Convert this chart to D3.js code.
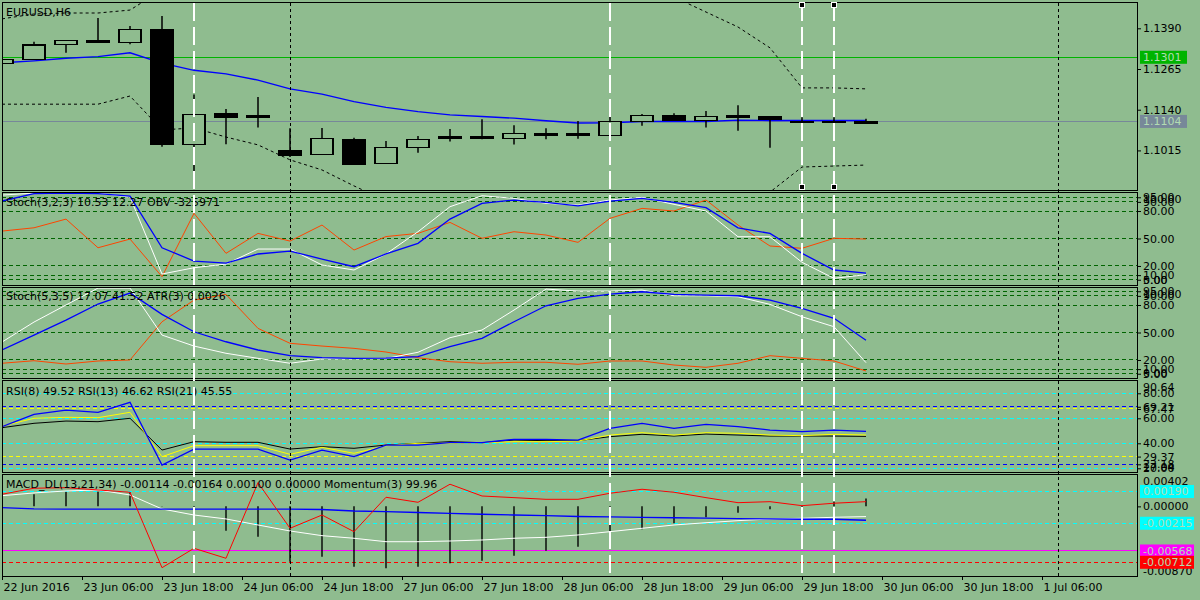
<!DOCTYPE html>
<html>
<head>
<meta charset="utf-8">
<script src="https://cdn.jsdelivr.net/npm/d3@7"></script>
<style>
body { margin: 0; background: #8fbc8f; }
svg { display: block; font-family: "DejaVu Sans", sans-serif; font-size: 11px; }
</style>
</head>
<body>
<svg width="1200" height="600"></svg>
<script>
// ---- data (one value per H6 bar) ----
var opens  = [1.1282,1.1295,1.1341,1.1353,1.1347,1.1385,1.1034,1.1129,1.1121,1.1013,1.1003,1.1049,1.0975,1.1025,1.1057,1.1057,1.1052,1.1067,1.1068,1.1061,1.1105,1.1123,1.1108,1.1121,1.1118,1.1105,1.1105,1.1104];
var highs  = [1.1295,1.1349,1.1353,1.1422,1.1397,1.1428,1.1187,1.1142,1.1179,1.1083,1.1084,1.1054,1.1044,1.1059,1.1081,1.1111,1.1092,1.1083,1.1105,1.1129,1.1127,1.1129,1.1136,1.1154,1.1120,1.1117,1.1117,1.1112];
var lows   = [1.1282,1.1295,1.1315,1.1346,1.1341,1.1026,1.0900,1.1034,1.1085,1.0995,1.1001,1.0972,1.0975,1.1008,1.1042,1.1049,1.1033,1.1049,1.1051,1.1052,1.1091,1.1106,1.1085,1.1075,1.1023,1.1095,1.1069,1.1101];
var closes = [1.1295,1.1339,1.1353,1.1346,1.1387,1.1033,1.1126,1.1117,1.1117,1.0999,1.1052,1.0972,1.1024,1.1049,1.1051,1.1051,1.1068,1.1064,1.1060,1.1103,1.1123,1.1106,1.1120,1.1115,1.1109,1.1103,1.1103,1.1104];

var maLine    = [1.1284,1.1290,1.1298,1.1303,1.1315,1.1283,1.1261,1.1250,1.1231,1.1204,1.1188,1.1165,1.1147,1.1134,1.1124,1.1119,1.1114,1.1106,1.1099,1.1100,1.1104,1.1104,1.1104,1.1108,1.1107,1.1107,1.1107,1.1107];
var bandUpper = [1.1419,1.1434,1.1437,1.1437,1.1446,1.1508,1.1580,1.1610,1.1630,1.1640,1.1650,1.1650,1.1650,1.1645,1.1640,1.1630,1.1620,1.1610,1.1600,1.1590,1.1539,1.1486,1.1440,1.1394,1.1330,1.1207,1.1207,1.1204];
var bandLower = [1.1157,1.1157,1.1157,1.1157,1.1182,1.1078,1.1084,1.1056,1.1032,1.0986,1.0955,1.0906,1.0860,1.0840,1.0830,1.0820,1.0815,1.0810,1.0810,1.0815,1.0820,1.0830,1.0845,1.0860,1.0887,1.0964,1.0967,1.0970];
var linePrice = 1.1301;   // green horizontal line
var bidPrice = 1.1104;    // grey bid line
var priceTicks = [1.1390, 1.1265, 1.1140, 1.1015];

var stoch1Main   = [97.4,99.6,99.6,99.6,95.2,11.2,18.1,22.1,38.5,38.5,21.1,15.6,33.1,57.4,84.7,96.7,93.8,88.4,86.5,92.0,94.9,87.3,80.0,51.9,51.9,24.0,6.5,10.53];
var stoch1Signal = [90.9,99.0,99.6,99.0,96.3,39.9,25.4,23.2,33.1,36.3,27.6,19.2,33.1,44.7,71.2,88.4,92.0,89.5,85.7,90.9,93.8,89.5,83.6,61.7,55.6,33.8,15.6,12.27];
var obvLine      = [58.1,61.7,71.2,39.9,49.4,8.3,77.5,33.8,55.6,47.2,64.7,37.4,52.1,55.6,67.6,50.2,57.4,53.8,45.8,72.0,82.9,80.0,92.0,64.7,41.8,39.3,50.2,49.4];

var stoch2Main   = [39.6,61.4,80.0,98.5,98.5,47.2,35.2,27.3,21.8,16.4,21.1,21.1,21.6,28.4,44.3,52.7,74.5,97.4,95.2,95.2,96.3,90.1,90.1,89.0,80.7,67.2,56.3,17.07];
var stoch2Signal = [30.9,47.2,63.6,81.1,93.1,69.8,50.8,39.9,30.9,24.7,22.5,21.8,22.1,23.6,34.5,43.6,61.7,79.2,87.3,92.0,94.5,91.6,90.9,90.1,85.4,76.4,65.5,41.52];
var atrLine      = [16.4,19.2,15.6,18.9,20.0,61.7,85.4,91.6,54.5,38.2,35.2,32.7,28.7,22.5,18.1,16.4,17.5,17.5,15.3,18.9,18.9,14.5,12.0,16.4,24.7,21.8,18.9,8.0];
var stochLevels  = [95, 90, 80, 50, 20, 10, 5];

var rsi8  = [53.3,63.2,66.6,64.8,72.8,22.6,35.4,35.4,35.4,26.6,34.6,29.3,38.6,38.6,40.5,40.5,43.2,43.2,42.6,52.0,56.0,52.0,55.2,53.3,50.6,49.3,50.6,49.52];
var rsi13 = [53.8,60.0,60.8,60.5,64.8,29.3,38.1,38.1,38.1,31.2,36.8,32.0,38.1,40.0,40.0,40.5,41.3,41.3,41.8,46.6,48.5,46.6,48.5,48.0,46.6,46.1,47.2,46.62];
var rsi21 = [52.5,56.0,57.8,57.3,60.0,34.6,41.3,40.8,40.8,35.4,37.3,36.0,38.6,40.0,41.3,40.5,42.6,42.1,42.1,45.3,47.2,45.8,47.4,46.6,45.8,45.8,45.8,45.55];
var rsiCyanLevels   = [80, 60, 40, 20];
var rsiBlueLevels   = [69.21, 23.18];
var rsiYellowLevels = [67.47, 29.37];

var macdHist   = [0.0015,0.00154,0.00187,0.00187,0.0018,0.00005,-0.0011,-0.0031,-0.00386,-0.00704,-0.0064,-0.00768,-0.00789,-0.00768,-0.00725,-0.00692,-0.00628,-0.00564,-0.00513,-0.00415,-0.00292,-0.00215,-0.00139,-0.0008,-0.00037,-0.0001,0.0006,0.001];
var macdSignal = [-0.00017,-0.00033,-0.00035,-0.00035,-0.00035,-0.00035,-0.00035,-0.00035,-0.00035,-0.00035,-0.0004,-0.00059,-0.00068,-0.00078,-0.0009,-0.001,-0.0011,-0.00118,-0.00129,-0.00135,-0.00141,-0.00145,-0.0015,-0.00157,-0.0016,-0.00164,-0.00164,-0.00177];
var macdMain   = [0.00136,0.00171,0.00196,0.00209,0.00145,-0.00033,-0.0011,-0.0016,-0.00237,-0.00313,-0.00373,-0.00406,-0.0045,-0.0045,-0.00441,-0.00428,-0.00406,-0.00394,-0.00364,-0.00322,-0.00279,-0.00237,-0.00208,-0.00182,-0.0016,-0.00152,-0.00139,-0.0013];
var momentum   = [0.00154,0.00231,0.00238,0.00209,0.0018,-0.00781,-0.00534,-0.00661,0.00302,-0.00279,-0.0011,-0.00322,0.00116,0.00052,0.00282,0.00132,0.00111,0.0009,0.0009,0.00167,0.00218,0.0018,0.00111,0.00047,0.0006,0.00009,0.0004,0.0006];
var macdCyanLevels = [0.0019, -0.00215];
var macdMagenta = -0.00568;
var macdRed = -0.00712;

var timeLabels = ["22 Jun 2016","23 Jun 06:00","23 Jun 18:00","24 Jun 06:00","24 Jun 18:00","27 Jun 06:00","27 Jun 18:00","28 Jun 06:00","28 Jun 18:00","29 Jun 06:00","29 Jun 18:00","30 Jun 06:00","30 Jun 18:00","1 Jul 06:00"];
var whiteVBars = [6, 19, 25, 26];
var blackVBars = [9, 33];
var selectedBars = [25, 26];

// ---- drawing ----
var bg = '#8fbc8f';
var svg = d3.select('svg');
svg.append('rect').attr('width', 1200).attr('height', 600).attr('fill', bg);

var L = 2, R = 1137;
var x = d3.scaleLinear().domain([0, 1]).range([2, 34]);
var yMain = d3.scaleLinear().domain([1.08934, 1.14708]).range([190, 2]);
var ySt1 = d3.scaleLinear().domain([0, 100]).range([284.3, 192.7]);
var ySt2 = d3.scaleLinear().domain([0, 100]).range([378.3, 286.7]);
var yRsi = d3.scaleLinear().domain([17.04, 90.64]).range([472, 380]);
var yMacd = d3.scaleLinear().domain([-0.0087, 0.00402]).range([574.7, 474.8]);

function panel(id, top, bottom) {
    svg.append('clipPath').attr('id', id)
        .append('rect').attr('x', L).attr('y', top).attr('width', R - L).attr('height', bottom - top);
    var g = svg.append('g').attr('clip-path', 'url(#' + id + ')');
    svg.append('rect').attr('x', L + 0.5).attr('y', top + 0.5).attr('width', R - L).attr('height', bottom - top)
        .attr('fill', 'none').attr('stroke', '#000').attr('stroke-width', 1);
    return g;
}

function hline(g, y, color, dash) {
    g.append('line').attr('x1', L).attr('x2', R).attr('y1', y).attr('y2', y)
        .attr('stroke', color).attr('stroke-width', 1)
        .attr('stroke-dasharray', dash || null)
        .attr('shape-rendering', 'crispEdges');
}

function series(g, data, y, color, width) {
    var line = d3.line().x(function (d, i) { return x(i); }).y(function (d) { return y(d); });
    return g.append('path').datum(data).attr('d', line)
        .attr('fill', 'none').attr('stroke', color).attr('stroke-width', width || 1);
}

function rightAxis(y, values, fmt) {
    var ax = svg.append('g').attr('transform', 'translate(' + R + ',0)')
        .call(d3.axisRight(y).tickValues(values).tickSize(4).tickPadding(2).tickFormat(fmt));
    ax.select('.domain').remove();
    ax.selectAll('line').attr('stroke', '#000');
    ax.selectAll('text').attr('fill', '#000').style('font-size', '11px').style('font-family', '"DejaVu Sans", sans-serif');
}

function edgeLabels(top, bottom, maxText, minText) {
    svg.append('text').attr('x', R + 6).attr('y', top + 11).text(maxText);
    svg.append('text').attr('x', R + 6).attr('y', bottom - 1).text(minText);
}

function priceBox(y, text, fill, w) {
    svg.append('rect').attr('x', R + 3).attr('y', y - 6.5).attr('width', w).attr('height', 13).attr('fill', fill);
    svg.append('text').attr('x', R + 6).attr('y', y + 4).attr('fill', '#b2dcb2').text(text);
}

function title(top, text) {
    svg.append('text').attr('x', 6).attr('y', top).attr('fill', '#000').text(text);
}

var f2 = function (d) { return d.toFixed(2); };
var f4 = function (d) { return d.toFixed(4); };
var f5 = function (d) { return d.toFixed(5); };

// main price panel
var gm = panel('cm', 2, 190);
hline(gm, yMain(linePrice), '#00b400');
hline(gm, yMain(bidPrice), '#778899');
series(gm, bandUpper, yMain, '#000', 1).attr('stroke-dasharray', '3,3');
series(gm, bandLower, yMain, '#000', 1).attr('stroke-dasharray', '3,3');
series(gm, maLine, yMain, '#0000ff', 1.4);

var bars = gm.selectAll('g.bar').data(opens).enter().append('g').attr('class', 'bar');
bars.append('line')
    .attr('x1', function (d, i) { return x(i); }).attr('x2', function (d, i) { return x(i); })
    .attr('y1', function (d, i) { return yMain(highs[i]); }).attr('y2', function (d, i) { return yMain(lows[i]); })
    .attr('stroke', '#000').attr('stroke-width', 1.5);
bars.append('rect')
    .attr('x', function (d, i) { return x(i) - 11; }).attr('width', 22)
    .attr('y', function (d, i) { return yMain(Math.max(opens[i], closes[i])); })
    .attr('height', function (d, i) { return Math.max(1.5, Math.abs(yMain(opens[i]) - yMain(closes[i]))); })
    .attr('fill', function (d, i) { return closes[i] > opens[i] ? bg : '#000'; })
    .attr('stroke', '#000').attr('stroke-width', 1.2)
    .attr('shape-rendering', 'crispEdges');

rightAxis(yMain, priceTicks, f4);
priceBox(yMain(linePrice), linePrice.toFixed(4), '#00b400', 47);
priceBox(yMain(bidPrice), bidPrice.toFixed(4), '#778899', 47);
title(16, 'EURUSD,H6');

// stochastic 1
var g1 = panel('c1', 192, 285);
stochLevels.forEach(function (v) { hline(g1, ySt1(v), '#006400', '4,3'); });
series(g1, obvLine, ySt1, '#ff4500');
series(g1, stoch1Main, ySt1, '#ffffff');
series(g1, stoch1Signal, ySt1, '#0000ff', 1.3);
rightAxis(ySt1, stochLevels, f2);
edgeLabels(192, 285, '100.00', '0.00');
title(206, 'Stoch(3,2,3) 10.53 12.27 OBV -325971');

// stochastic 2
var g2 = panel('c2', 287, 378);
stochLevels.forEach(function (v) { hline(g2, ySt2(v), '#006400', '4,3'); });
series(g2, atrLine, ySt2, '#ff4500');
series(g2, stoch2Main, ySt2, '#ffffff');
series(g2, stoch2Signal, ySt2, '#0000ff', 1.3);
rightAxis(ySt2, stochLevels, f2);
edgeLabels(287, 378, '100.00', '0.00');
title(300, 'Stoch(5,3,5) 17.07 41.52 ATR(3) 0.0026');

// RSI
var g3 = panel('c3', 380, 472);
rsiCyanLevels.forEach(function (v) { hline(g3, yRsi(v), '#00ffff', '4,3'); });
rsiBlueLevels.forEach(function (v) { hline(g3, yRsi(v), '#0000ff', '4,3'); });
rsiYellowLevels.forEach(function (v) { hline(g3, yRsi(v), '#ffff00', '4,3'); });
series(g3, rsi21, yRsi, '#000000');
series(g3, rsi13, yRsi, '#ffff00');
series(g3, rsi8, yRsi, '#0000ff', 1.3);
rightAxis(yRsi, rsiCyanLevels.concat(rsiBlueLevels, rsiYellowLevels), f2);
edgeLabels(380, 472, '90.64', '17.04');
title(395, 'RSI(8) 49.52 RSI(13) 46.62 RSI(21) 45.55');

// MACD + momentum
var g4 = panel('c4', 474, 576);
macdCyanLevels.forEach(function (v) { hline(g4, yMacd(v), '#00ffff', '4,3'); });
hline(g4, yMacd(macdMagenta), '#ff00ff');
hline(g4, yMacd(macdRed), '#ff0000', '4,3');
g4.selectAll('line.hist').data(macdHist).enter().append('line').attr('class', 'hist')
    .attr('x1', function (d, i) { return x(i); }).attr('x2', function (d, i) { return x(i); })
    .attr('y1', yMacd(0)).attr('y2', function (d) { return yMacd(d); })
    .attr('stroke', '#000').attr('stroke-width', 1.4);
series(g4, macdMain, yMacd, '#ffffff');
series(g4, macdSignal, yMacd, '#0000ff', 1.3);
series(g4, momentum, yMacd, '#ff0000');
rightAxis(yMacd, [0], f5);
edgeLabels(474, 576, '0.00402', '-0.00870');
macdCyanLevels.forEach(function (v) { priceBox(yMacd(v), f5(v), '#00ffff', 54); });
priceBox(yMacd(macdMagenta), f5(macdMagenta), '#ff00ff', 54);
priceBox(yMacd(macdRed), f5(macdRed), '#ff0000', 54);
title(488, 'MACD_DL(13,21,34) -0.00114 -0.00164 0.00100 0.00000 Momentum(3) 99.96');

// vertical lines across all windows
var vg = svg.append('g');
vg.selectAll('line.w').data(whiteVBars).enter().append('line').attr('class', 'w')
    .attr('x1', function (d) { return x(d); }).attr('x2', function (d) { return x(d); })
    .attr('y1', 3).attr('y2', 576).attr('stroke', '#fff').attr('stroke-width', 1.5)
    .attr('stroke-dasharray', '18,6').attr('shape-rendering', 'crispEdges');
vg.selectAll('line.b').data(blackVBars).enter().append('line').attr('class', 'b')
    .attr('x1', function (d) { return x(d); }).attr('x2', function (d) { return x(d); })
    .attr('y1', 3).attr('y2', 576).attr('stroke', '#000').attr('stroke-width', 1)
    .attr('stroke-dasharray', '3,3').attr('shape-rendering', 'crispEdges');
selectedBars.forEach(function (b) {
    [5, 187].forEach(function (yy) {
        vg.append('rect').attr('x', x(b) - 2.5).attr('y', yy - 2.5).attr('width', 5).attr('height', 5)
            .attr('fill', '#000').attr('stroke', '#fff').attr('stroke-width', 1);
    });
});

// time axis
var xt = d3.scalePoint().domain(timeLabels).range([2, 2 + 80 * (timeLabels.length - 1)]);
var tax = svg.append('g').attr('transform', 'translate(0,576)')
    .call(d3.axisBottom(xt).tickSize(4).tickPadding(3));
tax.select('.domain').remove();
tax.selectAll('line').attr('stroke', '#000');
tax.selectAll('text').attr('fill', '#000').attr('text-anchor', 'start').attr('dx', 1)
    .style('font-size', '11px').style('font-family', '"DejaVu Sans", sans-serif');
</script>
</body>
</html>
